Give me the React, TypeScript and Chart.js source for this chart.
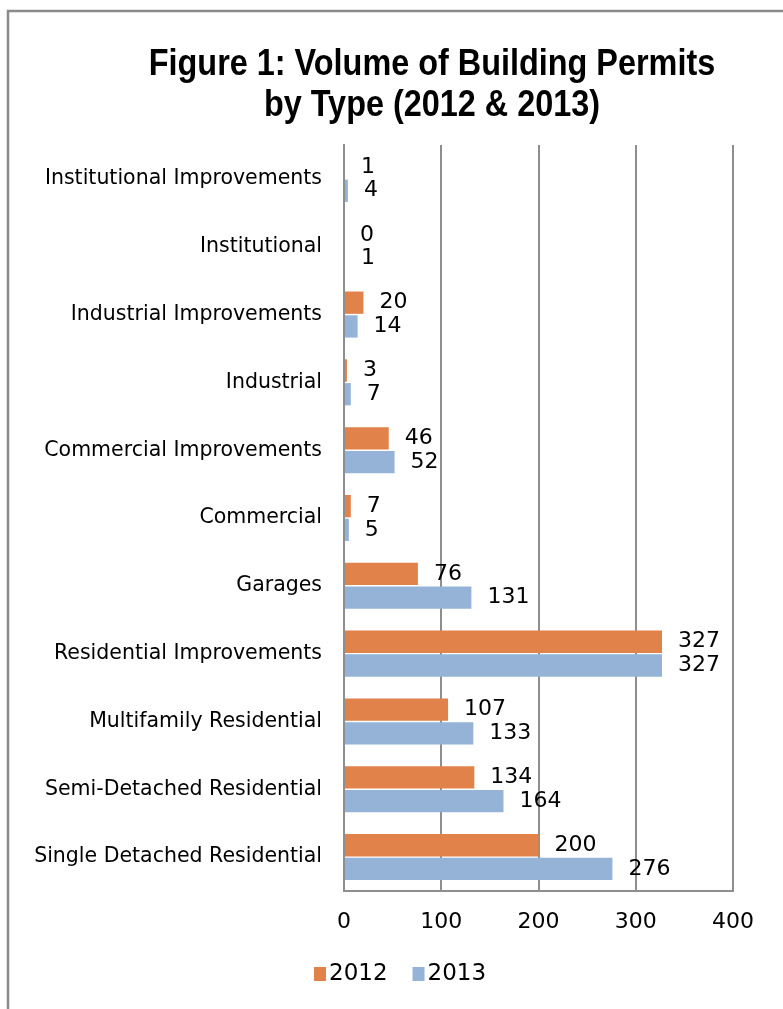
import React, { useEffect, useRef } from "react";
import { Chart, registerables } from "chart.js";

Chart.register(...registerables);

const categories = [
  "Institutional Improvements",
  "Institutional",
  "Industrial Improvements",
  "Industrial",
  "Commercial Improvements",
  "Commercial",
  "Garages",
  "Residential Improvements",
  "Multifamily Residential",
  "Semi-Detached Residential",
  "Single Detached Residential",
];
const values2012 = [1, 0, 20, 3, 46, 7, 76, 327, 107, 134, 200];
const values2013 = [4, 1, 14, 7, 52, 5, 131, 327, 133, 164, 276];
const seriesNames = ["2012", "2013"];
const xMin = 0;
const xMax = 400;
const xStep = 100;
const titleLines = ["Figure 1: Volume of Building Permits", "by Type (2012 & 2013)"];

const ORANGE = "#E0824A";
const BLUE = "#95B3D7";
const GRID = "#8e8e8e";
const NUM_FONT = "'DejaVu Sans', 'Liberation Sans', sans-serif";

const framePlugin = {
  id: "frame",
  beforeDraw(chart: any) {
    const ctx = chart.ctx;
    ctx.save();
    ctx.fillStyle = "#ffffff";
    ctx.fillRect(0, 0, chart.width, chart.height);
    ctx.strokeStyle = "#8a8a8a";
    ctx.lineWidth = 2.5;
    ctx.strokeRect(8, 11, chart.width + 40, chart.height + 40);
    ctx.restore();
  },
  afterDraw(chart: any) {
    const ctx = chart.ctx;
    // title (horizontally condensed bold)
    ctx.save();
    ctx.fillStyle = "#000000";
    ctx.font = "bold 36px 'Liberation Sans', sans-serif";
    ctx.textAlign = "center";
    ctx.textBaseline = "alphabetic";
    ctx.translate(432, 0);
    ctx.scale(0.9, 1);
    ctx.fillText(titleLines[0], 0, 75);
    ctx.fillText(titleLines[1], 0, 116);
    ctx.restore();

    // legend
    ctx.save();
    ctx.font = `23px ${NUM_FONT}`;
    ctx.textBaseline = "middle";
    ctx.textAlign = "left";
    const cy = 974;
    let x = 314;
    chart.data.datasets.forEach((ds: any) => {
      ctx.fillStyle = ds.backgroundColor;
      ctx.fillRect(x, cy - 7, 12, 14);
      x += 15;
      ctx.fillStyle = "#000";
      ctx.fillText(ds.label, x, cy);
      x += ctx.measureText(ds.label).width + 25;
    });
    ctx.restore();
  },
};

const labelPlugin = {
  id: "barLabels",
  afterDatasetsDraw(chart: any) {
    const ctx = chart.ctx;
    ctx.save();
    ctx.fillStyle = "#000000";
    ctx.font = `22px ${NUM_FONT}`;
    ctx.textAlign = "left";
    ctx.textBaseline = "middle";
    chart.data.datasets.forEach((ds: any, di: number) => {
      const meta = chart.getDatasetMeta(di);
      meta.data.forEach((el: any, i: number) => {
        ctx.fillText(String(ds.data[i]), el.x + 16, el.y);
      });
    });
    ctx.restore();
  },
};

export default function App() {
  const ref = useRef<HTMLCanvasElement | null>(null);
  useEffect(() => {
    if (!ref.current) return;
    const chart = new Chart(ref.current, {
      type: "bar",
      data: {
        labels: categories,
        datasets: [
          {
            label: seriesNames[0],
            data: values2012,
            backgroundColor: ORANGE,
            borderWidth: 0,
            categoryPercentage: 0.7,
            barPercentage: 0.94,
          },
          {
            label: seriesNames[1],
            data: values2013,
            backgroundColor: BLUE,
            borderWidth: 0,
            categoryPercentage: 0.7,
            barPercentage: 0.94,
          },
        ],
      },
      options: {
        indexAxis: "y",
        responsive: false,
        animation: false,
        events: [],
        layout: { padding: { top: 145, right: 50, bottom: 73.6, left: 0 } },
        scales: {
          x: {
            min: xMin,
            max: xMax,
            afterBuildTicks(scale: any) {
              const t = [];
              for (let v = xMin; v <= xMax; v += xStep) t.push({ value: v });
              scale.ticks = t;
            },
            afterFit(scale: any) {
              scale.height = 44.4;
            },
            grid: { color: GRID, lineWidth: 2, drawTicks: false },
            border: { display: true, color: GRID, width: 2 },
            ticks: {
              padding: 18,
              color: "#000",
              font: { size: 22, family: NUM_FONT },
            },
          },
          y: {
            afterFit(scale: any) {
              scale.width = 344;
            },
            grid: { display: false, drawTicks: false },
            border: { display: true, color: GRID, width: 2 },
            ticks: {
              padding: 22,
              color: "#000",
              font: { size: 20.5, family: "'DejaVu Sans', sans-serif" },
            },
          },
        },
        plugins: {
          legend: { display: false },
          title: { display: false },
          tooltip: { enabled: false },
        },
      },
      plugins: [framePlugin, labelPlugin],
    } as any);
    return () => chart.destroy();
  }, []);
  return (
    <div style={{ position: "absolute", left: 0, top: 0, width: 783, height: 1009 }}>
      <canvas ref={ref} width={783} height={1009} style={{ display: "block" }} />
    </div>
  );
}
